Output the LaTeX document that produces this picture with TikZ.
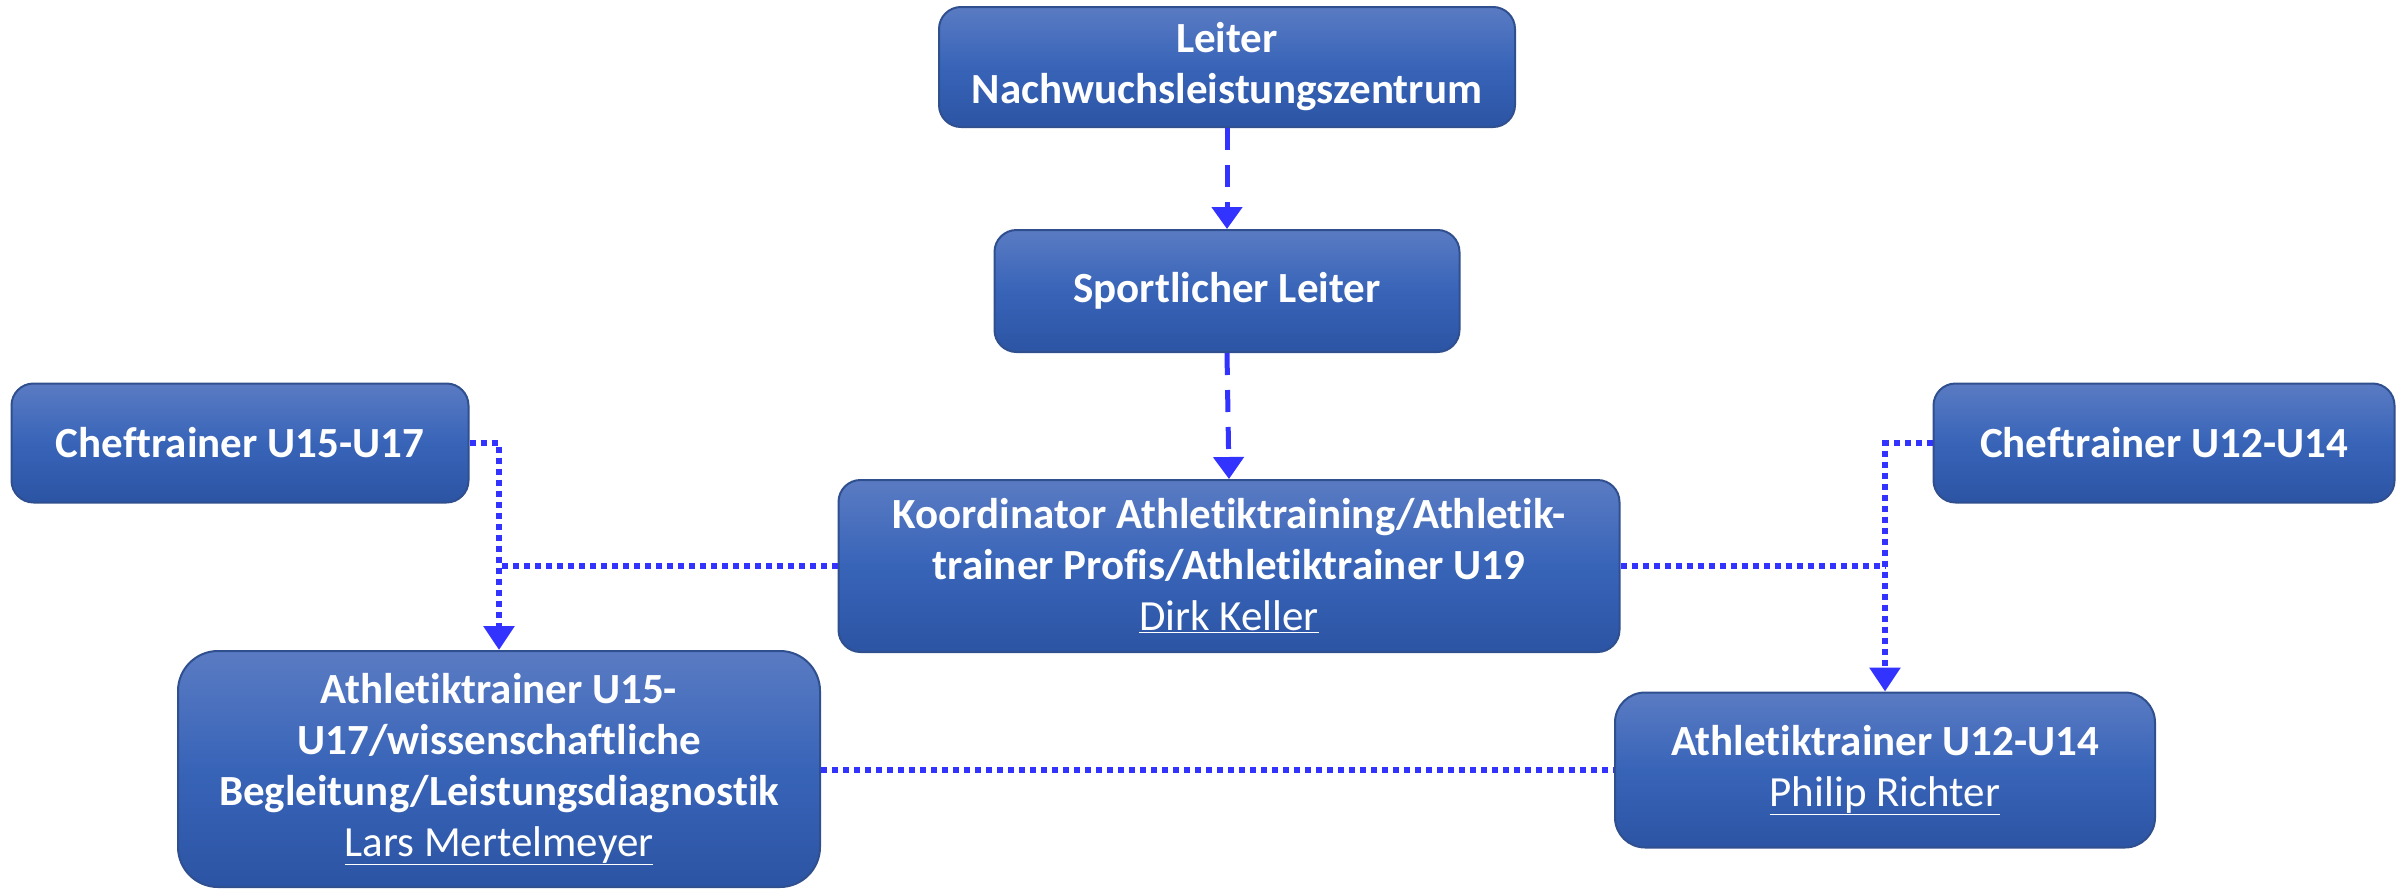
\documentclass[tikz,border=0pt]{standalone}
\usepackage{fontspec}
\setmainfont{Carlito}[Ligatures={NoCommon,NoContextual}]
\usetikzlibrary{arrows.meta}
\definecolor{boxtop}{RGB}{90,123,195}
\definecolor{boxmid}{RGB}{56,100,184}
\definecolor{boxbot}{RGB}{44,84,164}
\definecolor{boxline}{RGB}{47,79,143}
\definecolor{conn}{RGB}{51,51,255}
\tikzset{
  orgbox/.style={draw=boxline, line width=2pt, rounded corners=22pt,
    top color=boxtop, bottom color=boxbot, middle color=boxmid,
    text=white, align=center, font=\fontsize{43}{51}\selectfont\bfseries,
    inner sep=0pt},
  dashconn/.style={draw=conn, line width=5pt, dash pattern=on 22pt off 15pt,
    -{Triangle[width=30pt,length=22pt]}},
  dotconn/.style={draw=conn, line width=6pt, dash pattern=on 6pt off 5pt},
  dotarrow/.style={dotconn, -{Triangle[width=30pt,length=24pt]}},
}
\newcommand{\pname}[1]{{\mdseries\underline{#1}}}
\begin{document}
\begin{tikzpicture}[x=1pt,y=-1pt]
\useasboundingbox (0,0) rectangle (2407,889);
\node[orgbox, minimum width=576pt, minimum height=120pt] (b1) at (1227,67)
  {Leiter\\Nachwuchsleistungszentrum};
\node[orgbox, minimum width=465pt, minimum height=122pt] (b2) at (1227,291)
  {Sportlicher Leiter};
\node[orgbox, minimum width=781pt, minimum height=172pt] (b3) at (1229,566)
  {Koordinator Athletiktraining/Athletik-\\trainer Profis/Athletiktrainer U19\\\pname{Dirk Keller}};
\node[orgbox, minimum width=457pt, minimum height=119pt] (ch15) at (240,443)
  {Cheftrainer U15-U17};
\node[orgbox, minimum width=461pt, minimum height=119pt] (ch12) at (2164,443)
  {Cheftrainer U12-U14};
\node[orgbox, rounded corners=40pt, minimum width=642pt, minimum height=236pt] (at15) at (499,769)
  {Athletiktrainer U15-\\U17/wissenschaftliche\\Begleitung/Leistungsdiagnostik\\\pname{Lars Mertelmeyer}};
\node[orgbox, rounded corners=30pt, minimum width=540pt, minimum height=155pt] (at12) at (1885,770)
  {Athletiktrainer U12-U14\\\pname{Philip Richter}};

\draw[dashconn] (b1.south) -- (b2.north);
\draw[dashconn] (b2.south) -- (b3.north);
\draw[dotarrow] (ch15.east) -| (at15.north);
\draw[dotconn] (b3.west) -- (b3.west -| at15.north);
\draw[dotarrow] (ch12.west) -| (at12.north);
\draw[dotconn] (b3.east) -- (b3.east -| at12.north);
\draw[dotconn] (at15.east |- at12.west) -- (at12.west);
\end{tikzpicture}
\end{document}
